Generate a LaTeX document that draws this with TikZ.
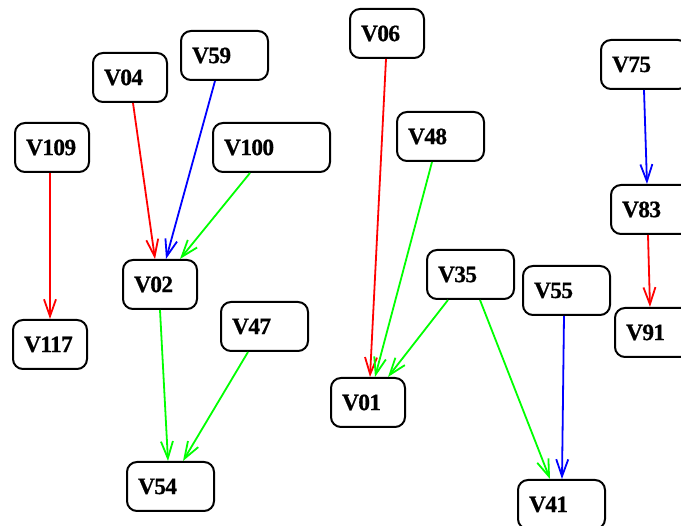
\documentclass[tikz,border=0pt]{standalone}
\usepackage{fontspec}
\setmainfont{Liberation Serif}
\newfontfamily\nodefont[FakeBold=0.6,LetterSpace=-3]{Liberation Serif}
\usetikzlibrary{arrows.meta}
\definecolor{egreen}{RGB}{0,255,0}
\definecolor{ered}{RGB}{255,0,0}
\definecolor{eblue}{RGB}{0,0,255}
\begin{document}
\begin{tikzpicture}[x=1pt,y=-1pt,
  vbox/.style={draw=black, line width=2pt, rounded corners=10pt, anchor=north west,
    minimum height=49pt, inner ysep=0pt, inner xsep=11pt, align=left,
    font=\nodefont\bfseries\fontsize{23.5}{23.5}\selectfont},
  w74/.style={vbox, text width=52pt},
  w87/.style={vbox, text width=65pt},
  w117/.style={vbox, text width=95pt},
  edge/.style={line width=1.8pt, -{Straight Barb[length=17pt,width=12pt,line width=1.8pt]}},
  er/.style={edge, draw=ered},
  eb/.style={edge, draw=eblue},
  eg/.style={edge, draw=egreen}]
\useasboundingbox (0,0) rectangle (681,526);
\clip (0,0) rectangle (681,526);
\node[w74] (v109) at (14,122) {V109};
\node[w74] (v04) at (92,52) {V04};
\node[w87] (v59) at (180,30) {V59};
\node[w117] (v100) at (212,122) {V100};
\node[w74] (v02) at (122,259) {V02};
\node[w74] (v117) at (12,319) {V117};
\node[w87] (v47) at (220,301) {V47};
\node[w87] (v54) at (126,461) {V54};
\node[w74] (v06) at (349,8) {V06};
\node[w87] (v48) at (396,111) {V48};
\node[w87] (v75) at (600,39) {V75};
\node[w87] (v83) at (610,184) {V83};
\node[w87] (v91) at (614,307) {V91};
\node[w87] (v35) at (426,249) {V35};
\node[w87] (v55) at (522,265) {V55};
\node[w74] (v01) at (330,377) {V01};
\node[w87] (v41) at (517,479) {V41};
\draw[er] ([xshift=36pt]v109.south west) -- ([xshift=38pt]v117.north west);
\draw[er] ([xshift=41pt]v04.south west) -- ([xshift=33pt]v02.north west);
\draw[eb] ([xshift=35pt]v59.south west) -- ([xshift=44pt]v02.north west);
\draw[eg] ([xshift=38pt]v100.south west) -- ([xshift=58pt]v02.north west);
\draw[eg] ([xshift=38pt]v02.south west) -- ([xshift=42pt]v54.north west);
\draw[eg] ([xshift=28pt]v47.south west) -- ([xshift=57pt]v54.north west);
\draw[er] ([xshift=37pt]v06.south west) -- ([xshift=40pt]v01.north west);
\draw[eg] ([xshift=36pt]v48.south west) -- ([xshift=45pt]v01.north west);
\draw[eg] ([xshift=22pt]v35.south west) -- ([xshift=58pt]v01.north west);
\draw[eg] ([xshift=54pt]v35.south west) -- ([xshift=33pt]v41.north west);
\draw[eb] ([xshift=42pt]v55.south west) -- ([xshift=45pt]v41.north west);
\draw[eb] ([xshift=44pt]v75.south west) -- ([xshift=37pt]v83.north west);
\draw[er] ([xshift=38pt]v83.south west) -- ([xshift=36pt]v91.north west);
\end{tikzpicture}
\end{document}
